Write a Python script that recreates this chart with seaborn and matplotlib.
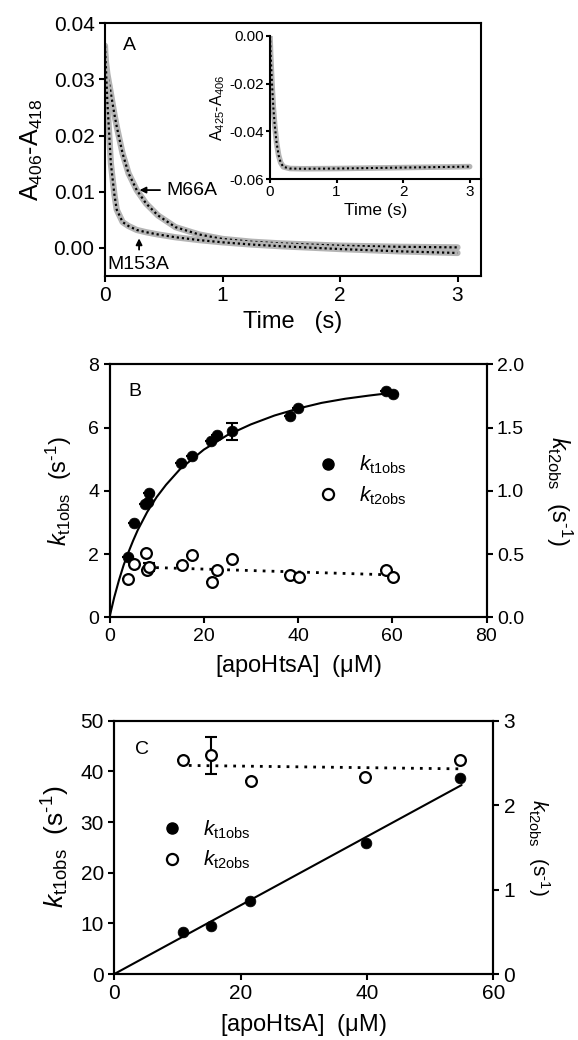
import matplotlib
matplotlib.use("Agg")
import matplotlib.pyplot as plt
import seaborn as sns
import pandas as pd
from matplotlib.lines import Line2D
from matplotlib.ticker import FormatStrFormatter

# ---------------- Panel A data ----------------
time_a = [0, 0.02, 0.05, 0.08, 0.1, 0.15, 0.2, 0.27, 0.35, 0.45, 0.6, 0.8, 1.0, 1.25, 1.5, 2.0, 2.5, 3.0]
m66a = [0.0345, 0.031, 0.0275, 0.0238, 0.0216, 0.0168, 0.0133, 0.0103, 0.0079, 0.0058, 0.0037, 0.0024,
        0.0016, 0.0011, 0.0008, 0.0004, 0.0002, 0.0001]
m153a = [0.036, 0.026, 0.015, 0.0095, 0.0068, 0.0046, 0.0039, 0.0032, 0.0028, 0.0024, 0.0019, 0.0014,
         0.0010, 0.0006, 0.0003, -0.0002, -0.0006, -0.0009]
time_inset = [0, 0.01, 0.03, 0.05, 0.07, 0.1, 0.13, 0.16, 0.2, 0.3, 0.5, 1.0, 1.5, 2.0, 2.5, 3.0]
inset_vals = [0.0, -0.008, -0.020, -0.030, -0.037, -0.045, -0.050, -0.053, -0.0548, -0.0555, -0.0556,
              -0.0555, -0.0553, -0.0551, -0.0549, -0.0547]

# ---------------- Panel B data ----------------
b_conc_t1 = [4.0, 5.1, 7.5, 8.2, 8.3, 15.2, 17.6, 21.6, 22.9, 26.1, 38.2, 40.1, 58.7, 60.1]
b_kt1 = [1.92, 2.97, 3.58, 3.65, 3.92, 4.87, 5.10, 5.58, 5.75, 5.88, 6.36, 6.62, 7.17, 7.07]
b_kt1_err = [0, 0, 0, 0, 0, 0, 0, 0, 0, 0.26, 0, 0, 0, 0]
b_conc_t2 = [3.9, 5.1, 7.7, 8.0, 8.3, 15.3, 17.6, 21.7, 22.9, 26.1, 38.2, 40.2, 58.7, 60.1]
b_kt2 = [0.30, 0.42, 0.51, 0.375, 0.40, 0.41, 0.49, 0.28, 0.37, 0.46, 0.335, 0.315, 0.375, 0.32]
b_kt2_err = [0, 0, 0, 0, 0.033, 0, 0, 0, 0, 0, 0, 0, 0, 0]
b_fit_x = [0, 1, 2, 3, 4, 5, 6, 8, 10, 12, 15, 20, 25, 30, 35, 40, 45, 50, 55, 60]
b_fit_y = [0, 0.63, 1.17, 1.65, 2.05, 2.42, 2.76, 3.33, 3.80, 4.19, 4.69, 5.30, 5.76, 6.10, 6.38, 6.60,
           6.78, 6.91, 7.01, 7.10]
b_dot_x = [8, 60]
b_dot_y = [0.395, 0.335]

# ---------------- Panel C data ----------------
c_conc_t1 = [10.9, 15.3, 21.5, 39.8, 54.7]
c_kt1 = [8.2, 9.5, 14.5, 25.8, 38.6]
c_conc_t2 = [10.8, 15.35, 21.6, 39.7, 54.7]
c_kt2 = [2.53, 2.59, 2.29, 2.33, 2.53]
c_kt2_err = [0, 0.22, 0, 0, 0]
c_fit_x = [0, 55]
c_fit_y = [0, 37.3]
c_dot_x = [11.8, 54.5]
c_dot_y = [2.47, 2.43]

sns.set_style("ticks")
plt.rcParams['font.family'] = ['Liberation Sans', 'DejaVu Sans']
plt.rcParams['mathtext.fontset'] = 'custom'
plt.rcParams['mathtext.rm'] = 'Liberation Sans'
plt.rcParams['mathtext.it'] = 'Liberation Sans:style=italic'
plt.rcParams['mathtext.bf'] = 'Liberation Sans:weight=bold'
plt.rcParams['axes.unicode_minus'] = False
for k in ['text.color', 'axes.labelcolor', 'xtick.color', 'ytick.color', 'axes.edgecolor']:
    plt.rcParams[k] = 'black'
plt.rcParams['axes.linewidth'] = 1.5
plt.rcParams['xtick.major.width'] = 1.5
plt.rcParams['ytick.major.width'] = 1.5
plt.rcParams['xtick.major.size'] = 4
plt.rcParams['ytick.major.size'] = 4
plt.rcParams['xtick.direction'] = 'out'
plt.rcParams['ytick.direction'] = 'out'

W, H = 578, 1040
fig = plt.figure(figsize=(W / 100, H / 100), dpi=100)


def rect(l, t, r, b):
    return [l / W, 1 - b / H, (r - l) / W, (b - t) / H]


def style_box(ax):
    for s in ax.spines.values():
        s.set_visible(True)
        s.set_linewidth(1.5)
        s.set_color('black')


KT1 = r'$\mathit{k}_{\mathrm{t1obs}}$'
KT2 = r'$\mathit{k}_{\mathrm{t2obs}}$'
UNIT = r'(s$^{\text{-}1}$)'


def legend_handles():
    return [Line2D([], [], marker='o', ls='none', color='black', markersize=8),
            Line2D([], [], marker='o', ls='none', markerfacecolor='white', markeredgecolor='black',
                   markeredgewidth=1.6, markersize=8)]


# ================= Panel A =================
axA = fig.add_axes(rect(105, 23.3, 481, 276))
dfA = pd.DataFrame({'t': time_a, 'M66A': m66a, 'M153A': m153a})
for col in ['M66A', 'M153A']:
    sns.lineplot(data=dfA, x='t', y=col, ax=axA, color='#b4b4b4', lw=4.5, solid_capstyle='round')
    sns.lineplot(data=dfA, x='t', y=col, ax=axA, color='black', lw=1.6, linestyle=(0, (1, 1.3)))
axA.set_xlim(0, 3.2)
axA.set_ylim(-0.005, 0.04)
axA.set_xticks([0, 1, 2, 3])
axA.set_yticks([0.0, 0.01, 0.02, 0.03, 0.04])
axA.yaxis.set_major_formatter(FormatStrFormatter('%.2f'))
axA.tick_params(labelsize=15)
style_box(axA)
axA.set_xlabel('Time   (s)', fontsize=17, labelpad=4)
axA.set_ylabel('A$_{406}$-A$_{418}$', fontsize=18, labelpad=6)
axA.text(0.15, 0.0352, 'A', fontsize=14)
axA.annotate('M66A', xy=(0.27, 0.0103), xytext=(0.52, 0.0103), fontsize=14, va='center',
             arrowprops=dict(arrowstyle='-|>', color='black', lw=1.3, mutation_scale=9))
axA.annotate('', xy=(0.29, 0.0022), xytext=(0.29, -0.0008),
             arrowprops=dict(arrowstyle='-|>', color='black', lw=1.3, mutation_scale=9))
axA.text(0.02, -0.0029, 'M153A', fontsize=14, va='center')

# inset
axI = fig.add_axes(rect(270, 35.7, 481, 179.3))
dfI = pd.DataFrame({'t': time_inset, 'v': inset_vals})
sns.lineplot(data=dfI, x='t', y='v', ax=axI, color='#b4b4b4', lw=4.0)
sns.lineplot(data=dfI, x='t', y='v', ax=axI, color='black', lw=1.5, linestyle=(0, (1, 1.3)))
axI.set_xlim(0, 3.17)
axI.set_ylim(-0.06, 0.0)
axI.set_xticks([0, 1, 2, 3])
axI.set_yticks([0.0, -0.02, -0.04, -0.06])
axI.yaxis.set_major_formatter(FormatStrFormatter('%.2f'))
axI.tick_params(labelsize=11, length=3, pad=1)
axI.spines['top'].set_visible(False)
axI.spines['right'].set_visible(False)
axI.patch.set_alpha(0)
axI.set_xlabel('Time (s)', fontsize=12.5, labelpad=3)
axI.set_ylabel('A$_{425}$-A$_{406}$', fontsize=11.5, labelpad=2)

# ================= Panel B =================
axB = fig.add_axes(rect(109.5, 364.3, 486.5, 617.3))
axB2 = axB.twinx()
dfB_fit = pd.DataFrame({'x': b_fit_x, 'y': b_fit_y})
sns.lineplot(data=dfB_fit, x='x', y='y', ax=axB, color='black', lw=1.5)
axB.errorbar(b_conc_t1, b_kt1, yerr=b_kt1_err, fmt='none', ecolor='black', elinewidth=1.5,
             capsize=4, capthick=1.5)
sns.scatterplot(x=b_conc_t1, y=b_kt1, ax=axB, color='black', s=60, edgecolor='black', linewidth=0.5,
                zorder=3)
dfB_dot = pd.DataFrame({'x': b_dot_x, 'y': b_dot_y})
sns.lineplot(data=dfB_dot, x='x', y='y', ax=axB2, color='black', lw=2.0, linestyle=(0, (1, 2.2)))
axB2.errorbar(b_conc_t2, b_kt2, yerr=b_kt2_err, fmt='none', ecolor='black', elinewidth=1.5,
              capsize=4, capthick=1.5)
sns.scatterplot(x=b_conc_t2, y=b_kt2, ax=axB2, facecolor='white', edgecolor='black', s=60,
                linewidth=1.6, zorder=3)
axB.set_xlim(0, 80)
axB.set_ylim(0, 8)
axB2.set_ylim(0, 2.0)
axB.set_xticks([0, 20, 40, 60, 80])
axB.set_yticks([0, 2, 4, 6, 8])
axB2.set_yticks([0, 0.5, 1.0, 1.5, 2.0])
axB2.yaxis.set_major_formatter(FormatStrFormatter('%.1f'))
axB.tick_params(labelsize=14)
axB2.tick_params(labelsize=14)
style_box(axB)
style_box(axB2)
axB.set_xlabel(r'[apoHtsA]  ($\mathrm{\mu}$M)', fontsize=17, labelpad=6)
axB.set_ylabel(KT1 + '  ' + UNIT, fontsize=17, labelpad=10)
axB2.set_ylabel(KT2 + '  ' + UNIT, fontsize=17, rotation=270, labelpad=36)
axB.text(4.1, 7.0, 'B', fontsize=14)
axB.legend(legend_handles(), [KT1, KT2], frameon=False, loc='upper left',
           bbox_to_anchor=(0.552, 0.645), fontsize=15, handlelength=1.0, handletextpad=1.0,
           labelspacing=0.4, borderpad=0, borderaxespad=0)

# ================= Panel C =================
axC = fig.add_axes(rect(114.3, 720.7, 493.2, 974))
axC2 = axC.twinx()
dfC_fit = pd.DataFrame({'x': c_fit_x, 'y': c_fit_y})
sns.lineplot(data=dfC_fit, x='x', y='y', ax=axC, color='black', lw=1.5)
sns.scatterplot(x=c_conc_t1, y=c_kt1, ax=axC, color='black', s=60, edgecolor='black', linewidth=0.5,
                zorder=3)
dfC_dot = pd.DataFrame({'x': c_dot_x, 'y': c_dot_y})
sns.lineplot(data=dfC_dot, x='x', y='y', ax=axC2, color='black', lw=2.0, linestyle=(0, (1, 2.2)))
axC2.errorbar(c_conc_t2, c_kt2, yerr=c_kt2_err, fmt='none', ecolor='black', elinewidth=1.5,
              capsize=4, capthick=1.5)
sns.scatterplot(x=c_conc_t2, y=c_kt2, ax=axC2, facecolor='white', edgecolor='black', s=60,
                linewidth=1.6, zorder=3)
axC.set_xlim(0, 60)
axC.set_ylim(0, 50)
axC2.set_ylim(0, 3)
axC.set_xticks([0, 20, 40, 60])
axC.set_yticks([0, 10, 20, 30, 40, 50])
axC2.set_yticks([0, 1, 2, 3])
axC.tick_params(labelsize=15)
axC2.tick_params(labelsize=15)
style_box(axC)
style_box(axC2)
axC.set_xlabel(r'[apoHtsA]  ($\mathrm{\mu}$M)', fontsize=17, labelpad=6)
axC.set_ylabel(KT1 + '  ' + UNIT, fontsize=19, labelpad=6)
axC2.set_ylabel(KT2 + '  ' + UNIT, fontsize=15, rotation=270, labelpad=26)
axC.text(3.2, 43.5, 'C', fontsize=14)
axC.legend(legend_handles(), [KT1, KT2], frameon=False, loc='upper left',
           bbox_to_anchor=(0.125, 0.615), fontsize=15, handlelength=1.0, handletextpad=1.0,
           labelspacing=0.4, borderpad=0, borderaxespad=0)

fig.savefig('out.png', dpi=100)
